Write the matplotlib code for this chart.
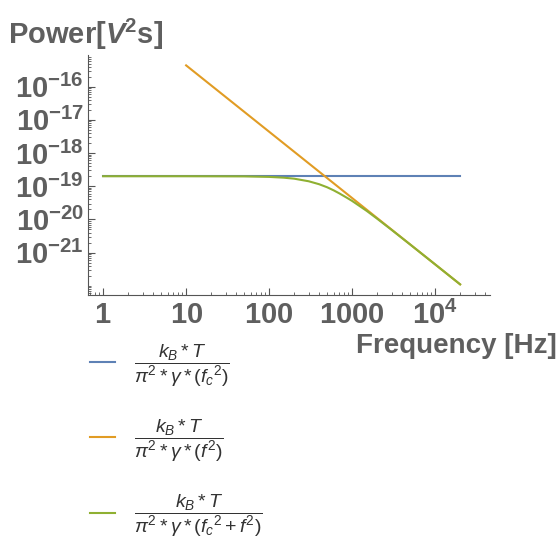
import numpy as np
import matplotlib
matplotlib.use("Agg")
import matplotlib.pyplot as plt
from matplotlib.ticker import FixedLocator, FixedFormatter, LogLocator, NullFormatter

plt.rcParams['font.family'] = ['Liberation Sans', 'DejaVu Sans']
plt.rcParams['mathtext.fontset'] = 'custom'
plt.rcParams['mathtext.rm'] = 'Liberation Sans'
plt.rcParams['mathtext.it'] = 'Liberation Sans:italic'
plt.rcParams['mathtext.bf'] = 'Liberation Sans:bold'
plt.rcParams['mathtext.bfit'] = 'Liberation Sans:bold:italic'
plt.rcParams['mathtext.sf'] = 'Liberation Sans'

# values (Hz, V^2 s)
freq_flat = [1, 20000]
power_flat = [2.0e-19, 2.0e-19]

freq_slope = [10, 20000]
power_slope = [4.4e-16, 1.1e-22]

freq_full = [1, 10, 50, 100, 150, 200, 300, 400, 500, 600, 700, 850, 1000,
             1500, 2000, 3000, 5000, 10000, 20000]
power_full = [2.0e-19, 2.0e-19, 1.98e-19, 1.91e-19, 1.81e-19, 1.69e-19,
              1.41e-19, 1.15e-19, 0.93e-19, 0.75e-19, 0.61e-19, 0.46e-19,
              0.36e-19, 0.18e-19, 1.05e-20, 4.8e-21, 1.75e-21, 4.4e-22,
              1.1e-22]

xtick_vals = [1, 10, 100, 1000, 10000]
xtick_labels = [r'$\mathbf{1}$', r'$\mathbf{10}$', r'$\mathbf{100}$',
                r'$\mathbf{1000}$', r'$\mathbf{10^{4}}$']
ytick_vals = [1e-16, 1e-17, 1e-18, 1e-19, 1e-20, 1e-21]
ytick_labels = [r'$\mathbf{10^{-16}}$', r'$\mathbf{10^{-17}}$',
                r'$\mathbf{10^{-18}}$', r'$\mathbf{10^{-19}}$',
                r'$\mathbf{10^{-20}}$', r'$\mathbf{10^{-21}}$']

legend_labels = [
    r'$\dfrac{k_B*T}{\pi^2*\gamma*(f_c{}^2)}$',
    r'$\dfrac{k_B*T}{\pi^2*\gamma*(f^2)}$',
    r'$\dfrac{k_B*T}{\pi^2*\gamma*(f_c{}^2+f^2)}$',
]

c_blue = '#5E81B5'
c_orange = '#E19C24'
c_green = '#8FB032'
gray = '#5f5f5f'

fig = plt.figure(figsize=(5.58, 5.36), dpi=100)
ax = fig.add_axes([0.158, 0.4496, 0.72, 0.4474])

l1, = ax.plot(freq_flat, power_flat, color=c_blue, lw=1.5)
l2, = ax.plot(freq_slope, power_slope, color=c_orange, lw=1.5)
l3, = ax.plot(freq_full, power_full, color=c_green, lw=1.5)

ax.set_xscale('log')
ax.set_yscale('log')
ax.set_xlim(10 ** -0.18, 10 ** 4.66)
ax.set_ylim(10 ** -22.28, 10 ** -15.05)

for s in ['top', 'right']:
    ax.spines[s].set_visible(False)
for s in ['left', 'bottom']:
    ax.spines[s].set_color('#555555')
    ax.spines[s].set_linewidth(0.8)

ax.xaxis.set_major_locator(FixedLocator(xtick_vals))
ax.xaxis.set_major_formatter(FixedFormatter(xtick_labels))
ax.yaxis.set_major_locator(FixedLocator(ytick_vals))
ax.yaxis.set_major_formatter(FixedFormatter(ytick_labels))
ax.xaxis.set_minor_locator(LogLocator(base=10, subs=np.arange(2, 10), numticks=100))
ax.yaxis.set_minor_locator(LogLocator(base=10, subs=np.arange(1, 10), numticks=100))
ax.xaxis.set_minor_formatter(NullFormatter())
ax.yaxis.set_minor_formatter(NullFormatter())

ax.tick_params(which='both', direction='in', colors='#555555', labelcolor=gray,
               labelsize=21)
ax.tick_params(which='major', length=5, width=0.8)
ax.tick_params(which='minor', length=2.5, width=0.6)
ax.tick_params(axis='x', pad=4)
ax.tick_params(axis='y', pad=3)

fig.text(8 / 558, 1 - 44 / 536, r'$\mathbf{Power[}\mathbfit{V}^{\mathbf{2}}\mathbf{s]}$',
         fontsize=21, color=gray, ha='left', va='baseline')
fig.text(557 / 558, 1 - 353 / 536, 'Frequency [Hz]', fontsize=20,
         fontweight='bold', color=gray, ha='right', va='baseline')

ax.legend([l1, l2, l3], legend_labels, loc='upper left',
          bbox_to_anchor=(72 / 558, 1 - 325 / 536), bbox_transform=fig.transFigure,
          frameon=False, fontsize=14, handlelength=1.3, handletextpad=1.0,
          labelspacing=1.5, labelcolor='#333333')

fig.savefig('out.png', dpi=100)
